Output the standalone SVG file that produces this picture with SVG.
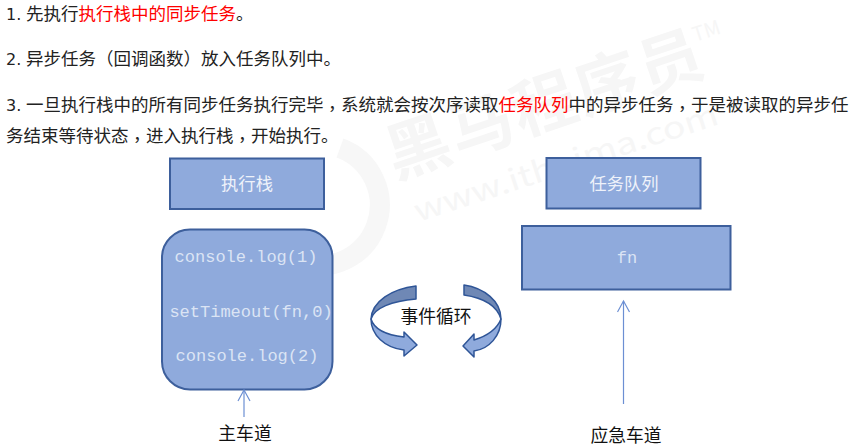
<svg xmlns="http://www.w3.org/2000/svg" width="853" height="446" viewBox="0 0 853 446">
<style>
text{font-family:"Noto Sans CJK SC","Noto Sans",sans-serif}
.line{font-size:17.5px;fill:#222}
.num{font-family:"DejaVu Sans",sans-serif;font-size:16px}
.red{fill:#f00}
.p{font-family:"Noto Sans CJK TC","Noto Sans CJK SC",sans-serif}
.box{fill:#8faadc;stroke:#3d5f9c;stroke-width:2}
.title{font-size:17.3px;fill:#eef2fa;text-anchor:middle}
.code{font-family:"Liberation Mono","DejaVu Sans Mono",monospace;font-size:17px;fill:#dbe4f4;text-anchor:middle}
.lbl{font-size:17.8px;fill:#111;text-anchor:middle}
.wm{fill:#f6f6f6}
.conn{fill:none;stroke:#6c8fd3;stroke-width:1.2}
.dark{fill:#6f88b5;stroke:#2f5597;stroke-width:1.5;stroke-linejoin:round}
.light{fill:#8faadc;stroke:#2f5597;stroke-width:1.5;stroke-linejoin:round}
</style>
<defs><marker id="open" markerWidth="14" markerHeight="14" refX="12" refY="7" orient="auto" markerUnits="userSpaceOnUse"><path d="M1 1L12 7L1 13" fill="none" stroke="#6c8fd3" stroke-width="1.2"/></marker></defs>
<rect width="853" height="446" fill="#fff"/>
<g id="watermark">
<path d="M340 148A58 58 0 1 1 298 262" fill="none" stroke="#f7f7f7" stroke-width="20"/>
<text class="wm" transform="translate(395 179) rotate(-18.700)" font-size="64" font-weight="700" textLength="330" lengthAdjust="spacing">黑马程序员</text>
<text class="wm" transform="translate(418 222) rotate(-18)" font-size="30" textLength="318" lengthAdjust="spacingAndGlyphs">www.itheima.com</text>
<text class="wm" transform="translate(695 42) rotate(-18)" font-size="20">TM</text>
</g>
<g id="intro">
<text class="line" y="20"><tspan class="num" x="6">1.</tspan><tspan x="26">先执行</tspan><tspan class="red">执行栈中的同步任务</tspan>。</text>
<text class="line" y="65"><tspan class="num" x="6">2.</tspan><tspan x="26">异步任务</tspan><tspan class="p">（</tspan>回调函数<tspan class="p">）</tspan>放入任务队列中。</text>
<text class="line" y="111"><tspan class="num" x="6">3.</tspan><tspan x="26">一旦执行栈中的所有同步任务执行完毕</tspan><tspan class="p" dy="4">，</tspan><tspan dy="-4">系统就会按次序读取</tspan><tspan class="red">任务队列</tspan>中的异步任务<tspan class="p" dy="4">，</tspan><tspan dy="-4">于是被读取的异步任</tspan></text>
<text class="line" y="142"><tspan x="6">务结束等待状态</tspan><tspan class="p" dy="4">，</tspan><tspan dy="-4">进入执行栈</tspan><tspan class="p" dy="4">，</tspan><tspan dy="-4">开始执行。</tspan></text>
</g>
<g id="stack-title"><rect class="box" x="170" y="158.500" width="154" height="50.500"/><text class="title" x="247" y="190">执行栈</text></g>
<g id="stack"><rect class="box" x="162" y="229.500" width="170.500" height="160" rx="28" ry="28"/>
<text class="code" x="246" y="262">console.log(1)</text>
<text class="code" x="251" y="316.500">setTimeout(fn,0)</text>
<text class="code" x="247" y="361">console.log(2)</text></g>
<g id="queue-title"><rect class="box" x="546.500" y="158" width="154" height="50.500"/><text class="title" x="624" y="190">任务队列</text></g>
<g id="queue"><rect class="box" x="522" y="226" width="208.500" height="63.500"/><text class="code" x="627" y="263">fn</text></g>
<g id="loop">
<path class="dark" d="M416 286C392 289 372 301 371 319C374 308 392 301 416 299Z"/>
<path class="light" d="M371 319C371 335 385 348 404 350V356L417 345L404 332V337C386 335 374 329 371 319Z"/>
<path class="dark" d="M464 285C484 288 501 301 501 319C497 306 484 298 464 295Z"/>
<path class="light" d="M501 319C501 336 489 349 474 351V357L463 346L474 334V340C487 336 497 329 501 319Z"/>
<text class="lbl" x="436" y="323">事件循环</text>
</g>
<g id="connectors">
<path class="conn" marker-end="url(#open)" d="M244 417V390"/>
<path class="conn" marker-end="url(#open)" d="M623.500 404V301"/>
</g>
<g id="label-main"><text class="lbl" x="245" y="440">主车道</text></g>
<g id="label-emergency"><text class="lbl" x="626" y="442">应急车道</text></g>
</svg>
